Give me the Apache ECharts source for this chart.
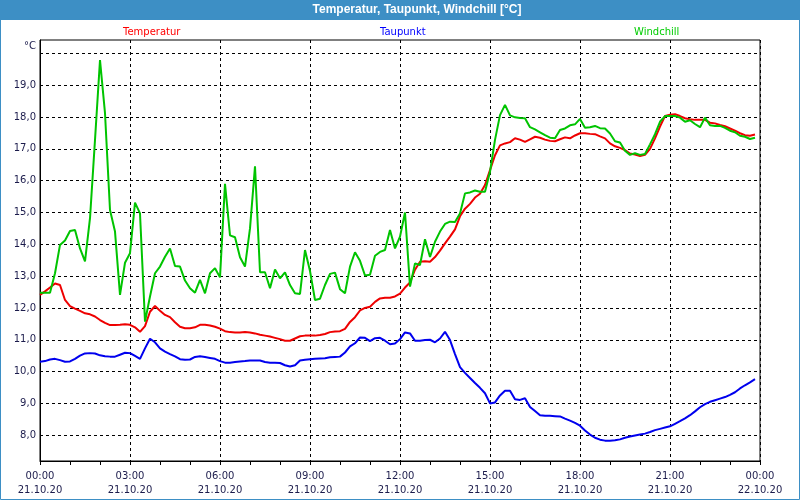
<!DOCTYPE html>
<html>
<head>
<meta charset="utf-8">
<script src="https://cdn.jsdelivr.net/npm/echarts@6/dist/echarts.min.js"></script>
<style>
html,body{margin:0;padding:0;background:#fff;}
#chart{width:800px;height:500px;}
</style>
</head>
<body>
<div id="chart"></div>
<script>
// time categories (10-minute steps, 21.10.20 00:00 .. 22.10.20 00:00)
const times = [
"00:00","00:10","00:20","00:30","00:40","00:50","01:00","01:10","01:20","01:30","01:40","01:50",
"02:00","02:10","02:20","02:30","02:40","02:50","03:00","03:10","03:20","03:30","03:40","03:50",
"04:00","04:10","04:20","04:30","04:40","04:50","05:00","05:10","05:20","05:30","05:40","05:50",
"06:00","06:10","06:20","06:30","06:40","06:50","07:00","07:10","07:20","07:30","07:40","07:50",
"08:00","08:10","08:20","08:30","08:40","08:50","09:00","09:10","09:20","09:30","09:40","09:50",
"10:00","10:10","10:20","10:30","10:40","10:50","11:00","11:10","11:20","11:30","11:40","11:50",
"12:00","12:10","12:20","12:30","12:40","12:50","13:00","13:10","13:20","13:30","13:40","13:50",
"14:00","14:10","14:20","14:30","14:40","14:50","15:00","15:10","15:20","15:30","15:40","15:50",
"16:00","16:10","16:20","16:30","16:40","16:50","17:00","17:10","17:20","17:30","17:40","17:50",
"18:00","18:10","18:20","18:30","18:40","18:50","19:00","19:10","19:20","19:30","19:40","19:50",
"20:00","20:10","20:20","20:30","20:40","20:50","21:00","21:10","21:20","21:30","21:40","21:50",
"22:00","22:10","22:20","22:30","22:40","22:50","23:00","23:10","23:20","23:30","23:40","23:50",
"24:00"
];
const dayLabel = "21.10.20";
const nextDayLabel = "22.10.20";

const temperatur = [
12.41,12.52,12.64,12.77,12.72,12.25,12.06,11.98,11.91,11.83,11.80,11.73,11.62,11.53,11.46,11.46,11.47,11.49,11.47,11.39,11.25,11.43,11.88,12.06,11.91,11.78,11.71,11.55,11.41,11.36,11.36,11.39,11.47,11.47,11.45,11.41,11.35,
11.27,11.24,11.23,11.23,11.24,11.23,11.20,11.16,11.13,11.10,11.06,11.02,10.97,10.97,11.04,11.11,11.13,11.13,11.13,11.15,11.18,11.24,11.26,11.27,11.34,11.56,11.71,11.92,12.00,12.04,12.19,12.30,12.32,12.32,12.36,12.45,
12.64,12.80,13.20,13.45,13.47,13.45,13.60,13.80,14.03,14.24,14.47,14.88,15.12,15.27,15.47,15.59,15.86,16.33,16.80,17.11,17.17,17.21,17.33,17.29,17.22,17.30,17.38,17.35,17.29,17.25,17.24,17.30,17.36,17.33,17.42,17.49,
17.49,17.47,17.46,17.39,17.33,17.17,17.08,17.03,16.96,16.85,16.82,16.77,16.81,17.00,17.33,17.70,18.03,18.07,18.09,18.03,17.96,17.93,17.91,17.91,17.91,17.82,17.80,17.75,17.71,17.64,17.57,17.49,17.43,17.41,17.45
];
const taupunkt = [
10.31,10.33,10.38,10.40,10.36,10.31,10.32,10.40,10.50,10.57,10.58,10.57,10.51,10.48,10.47,10.47,10.53,10.59,10.58,10.49,10.40,10.73,11.03,10.92,10.73,10.63,10.55,10.48,10.39,10.37,10.38,10.46,10.48,10.46,10.43,10.40,10.33,
10.28,10.28,10.30,10.32,10.33,10.35,10.35,10.35,10.30,10.28,10.28,10.27,10.20,10.16,10.20,10.35,10.37,10.39,10.40,10.41,10.42,10.45,10.46,10.47,10.60,10.79,10.89,11.07,11.06,10.96,11.05,11.06,10.97,10.86,10.88,11.02,
11.23,11.20,10.97,10.97,10.99,11.00,10.92,11.04,11.25,10.99,10.55,10.14,9.96,9.80,9.64,9.49,9.32,9.00,9.03,9.25,9.40,9.40,9.13,9.11,9.16,8.89,8.76,8.63,8.61,8.61,8.60,8.59,8.52,8.46,8.39,8.30,
8.15,8.02,7.92,7.86,7.83,7.83,7.84,7.87,7.92,7.96,7.99,8.02,8.05,8.10,8.16,8.20,8.24,8.28,8.36,8.44,8.53,8.63,8.75,8.88,8.98,9.05,9.10,9.15,9.20,9.27,9.35,9.47,9.57,9.66,9.76
];
const windchill = [
12.48,12.48,12.48,13.09,13.98,14.12,14.42,14.45,13.87,13.46,14.82,17.28,19.79,18.12,15.08,14.40,12.41,13.42,13.72,15.31,14.97,11.57,12.36,13.09,13.30,13.61,13.87,13.32,13.30,12.86,12.62,12.48,12.88,12.46,13.09,13.25,12.96,
15.90,14.28,14.22,13.59,13.30,14.50,16.45,13.12,13.12,12.62,13.21,12.93,13.12,12.72,12.46,12.44,13.82,13.16,12.25,12.29,12.72,13.07,13.11,12.59,12.46,13.30,13.75,13.48,13.02,13.04,13.64,13.76,13.82,14.45,13.87,14.24,
15.00,12.67,13.40,13.35,14.16,13.60,14.08,14.40,14.64,14.71,14.70,14.97,15.60,15.63,15.69,15.65,15.65,16.28,17.28,18.06,18.38,18.05,17.99,17.97,17.96,17.68,17.61,17.52,17.43,17.35,17.33,17.59,17.64,17.74,17.77,17.94,
17.66,17.68,17.72,17.65,17.64,17.48,17.24,17.20,16.94,16.81,16.86,16.81,16.84,17.14,17.46,17.85,18.03,18.03,18.03,17.98,17.85,17.90,17.78,17.68,17.98,17.74,17.72,17.72,17.66,17.57,17.52,17.41,17.38,17.31,17.35
];

const chart = echarts.init(document.getElementById('chart'), null, {renderer: 'canvas'});
const labelFont = '"DejaVu Sans", Verdana, sans-serif';
const labelColor = '#1c1c4c';
const barBlue = '#3d8fc5';

chart.setOption({
  animation: false,
  backgroundColor: '#ffffff',
  title: {
    text: 'Temperatur, Taupunkt, Windchill [°C]',
    left: 417, top: 4, padding: 0, textAlign: 'center',
    textStyle: {color: '#ffffff', fontWeight: 'bold', fontSize: 12,
      fontFamily: '"Liberation Sans Narrow", "Liberation Sans", Arial, sans-serif'}
  },
  graphic: [
    {type: 'rect', z: -1, shape: {x: 0, y: 0, width: 800, height: 20}, style: {fill: barBlue}},
    {type: 'rect', z: -1, shape: {x: 0.5, y: 0.5, width: 799, height: 499}, style: {fill: null, stroke: barBlue, lineWidth: 1}},
    {type: 'text', x: 36, y: 46, style: {text: '°C', align: 'right', verticalAlign: 'middle',
      font: '10px ' + labelFont, fill: labelColor}}
  ],
  legend: [
    {data: ['Temperatur'], left: 113, top: 22, icon: 'rect', itemWidth: 0, itemHeight: 0, selectedMode: false,
      textStyle: {color: '#ff0000', fontSize: 10, fontFamily: labelFont}},
    {data: ['Taupunkt'], left: 370, top: 22, icon: 'rect', itemWidth: 0, itemHeight: 0, selectedMode: false,
      textStyle: {color: '#0000ff', fontSize: 10, fontFamily: labelFont}},
    {data: ['Windchill'], left: 624, top: 22, icon: 'rect', itemWidth: 0, itemHeight: 0, selectedMode: false,
      textStyle: {color: '#00cc00', fontSize: 10, fontFamily: labelFont}}
  ],
  grid: {left: 40, right: 40, top: 40, bottom: 39, show: true, borderColor: '#000', borderWidth: 1,
    backgroundColor: '#ffffff'},
  xAxis: {
    type: 'category', data: times, boundaryGap: false,
    axisLine: {show: true, lineStyle: {color: '#000', width: 1}},
    axisTick: {show: true, interval: 5, length: 4, lineStyle: {color: '#000'}},
    axisLabel: {interval: 17, margin: 8, color: labelColor, fontSize: 10, fontFamily: labelFont,
      lineHeight: 14,
      formatter: function (v) { return v === '24:00' ? '00:00\n' + nextDayLabel : v + '\n' + dayLabel; }},
    splitLine: {show: true, interval: 17, lineStyle: {color: '#000', type: [3, 3], width: 1}}
  },
  yAxis: {
    type: 'value', min: 7.19, max: 20.42, splitNumber: 13, minInterval: 1, maxInterval: 1,
    axisLine: {show: true, lineStyle: {color: '#000', width: 1}},
    axisTick: {show: false},
    axisLabel: {margin: 4, color: labelColor, fontSize: 10, fontFamily: labelFont,
      showMinLabel: false, showMaxLabel: false,
      formatter: function (v) {
        if (Math.abs(v - Math.round(v)) > 1e-6 || v > 19.5) return '';
        return v.toFixed(1).replace('.', ',');
      }},
    splitLine: {show: true, showMinLine: false, showMaxLine: false,
      lineStyle: {color: '#000', type: [3, 3], width: 1}}
  },
  series: [
    {name: 'Temperatur', type: 'line', data: temperatur, showSymbol: false, symbol: 'none',
      lineStyle: {color: '#ee0000', width: 2}, itemStyle: {color: '#ee0000'}},
    {name: 'Taupunkt', type: 'line', data: taupunkt, showSymbol: false, symbol: 'none',
      lineStyle: {color: '#0000ee', width: 2}, itemStyle: {color: '#0000ee'}},
    {name: 'Windchill', type: 'line', data: windchill, showSymbol: false, symbol: 'none',
      lineStyle: {color: '#00c400', width: 2}, itemStyle: {color: '#00c400'}}
  ]
});
</script>
</body>
</html>
